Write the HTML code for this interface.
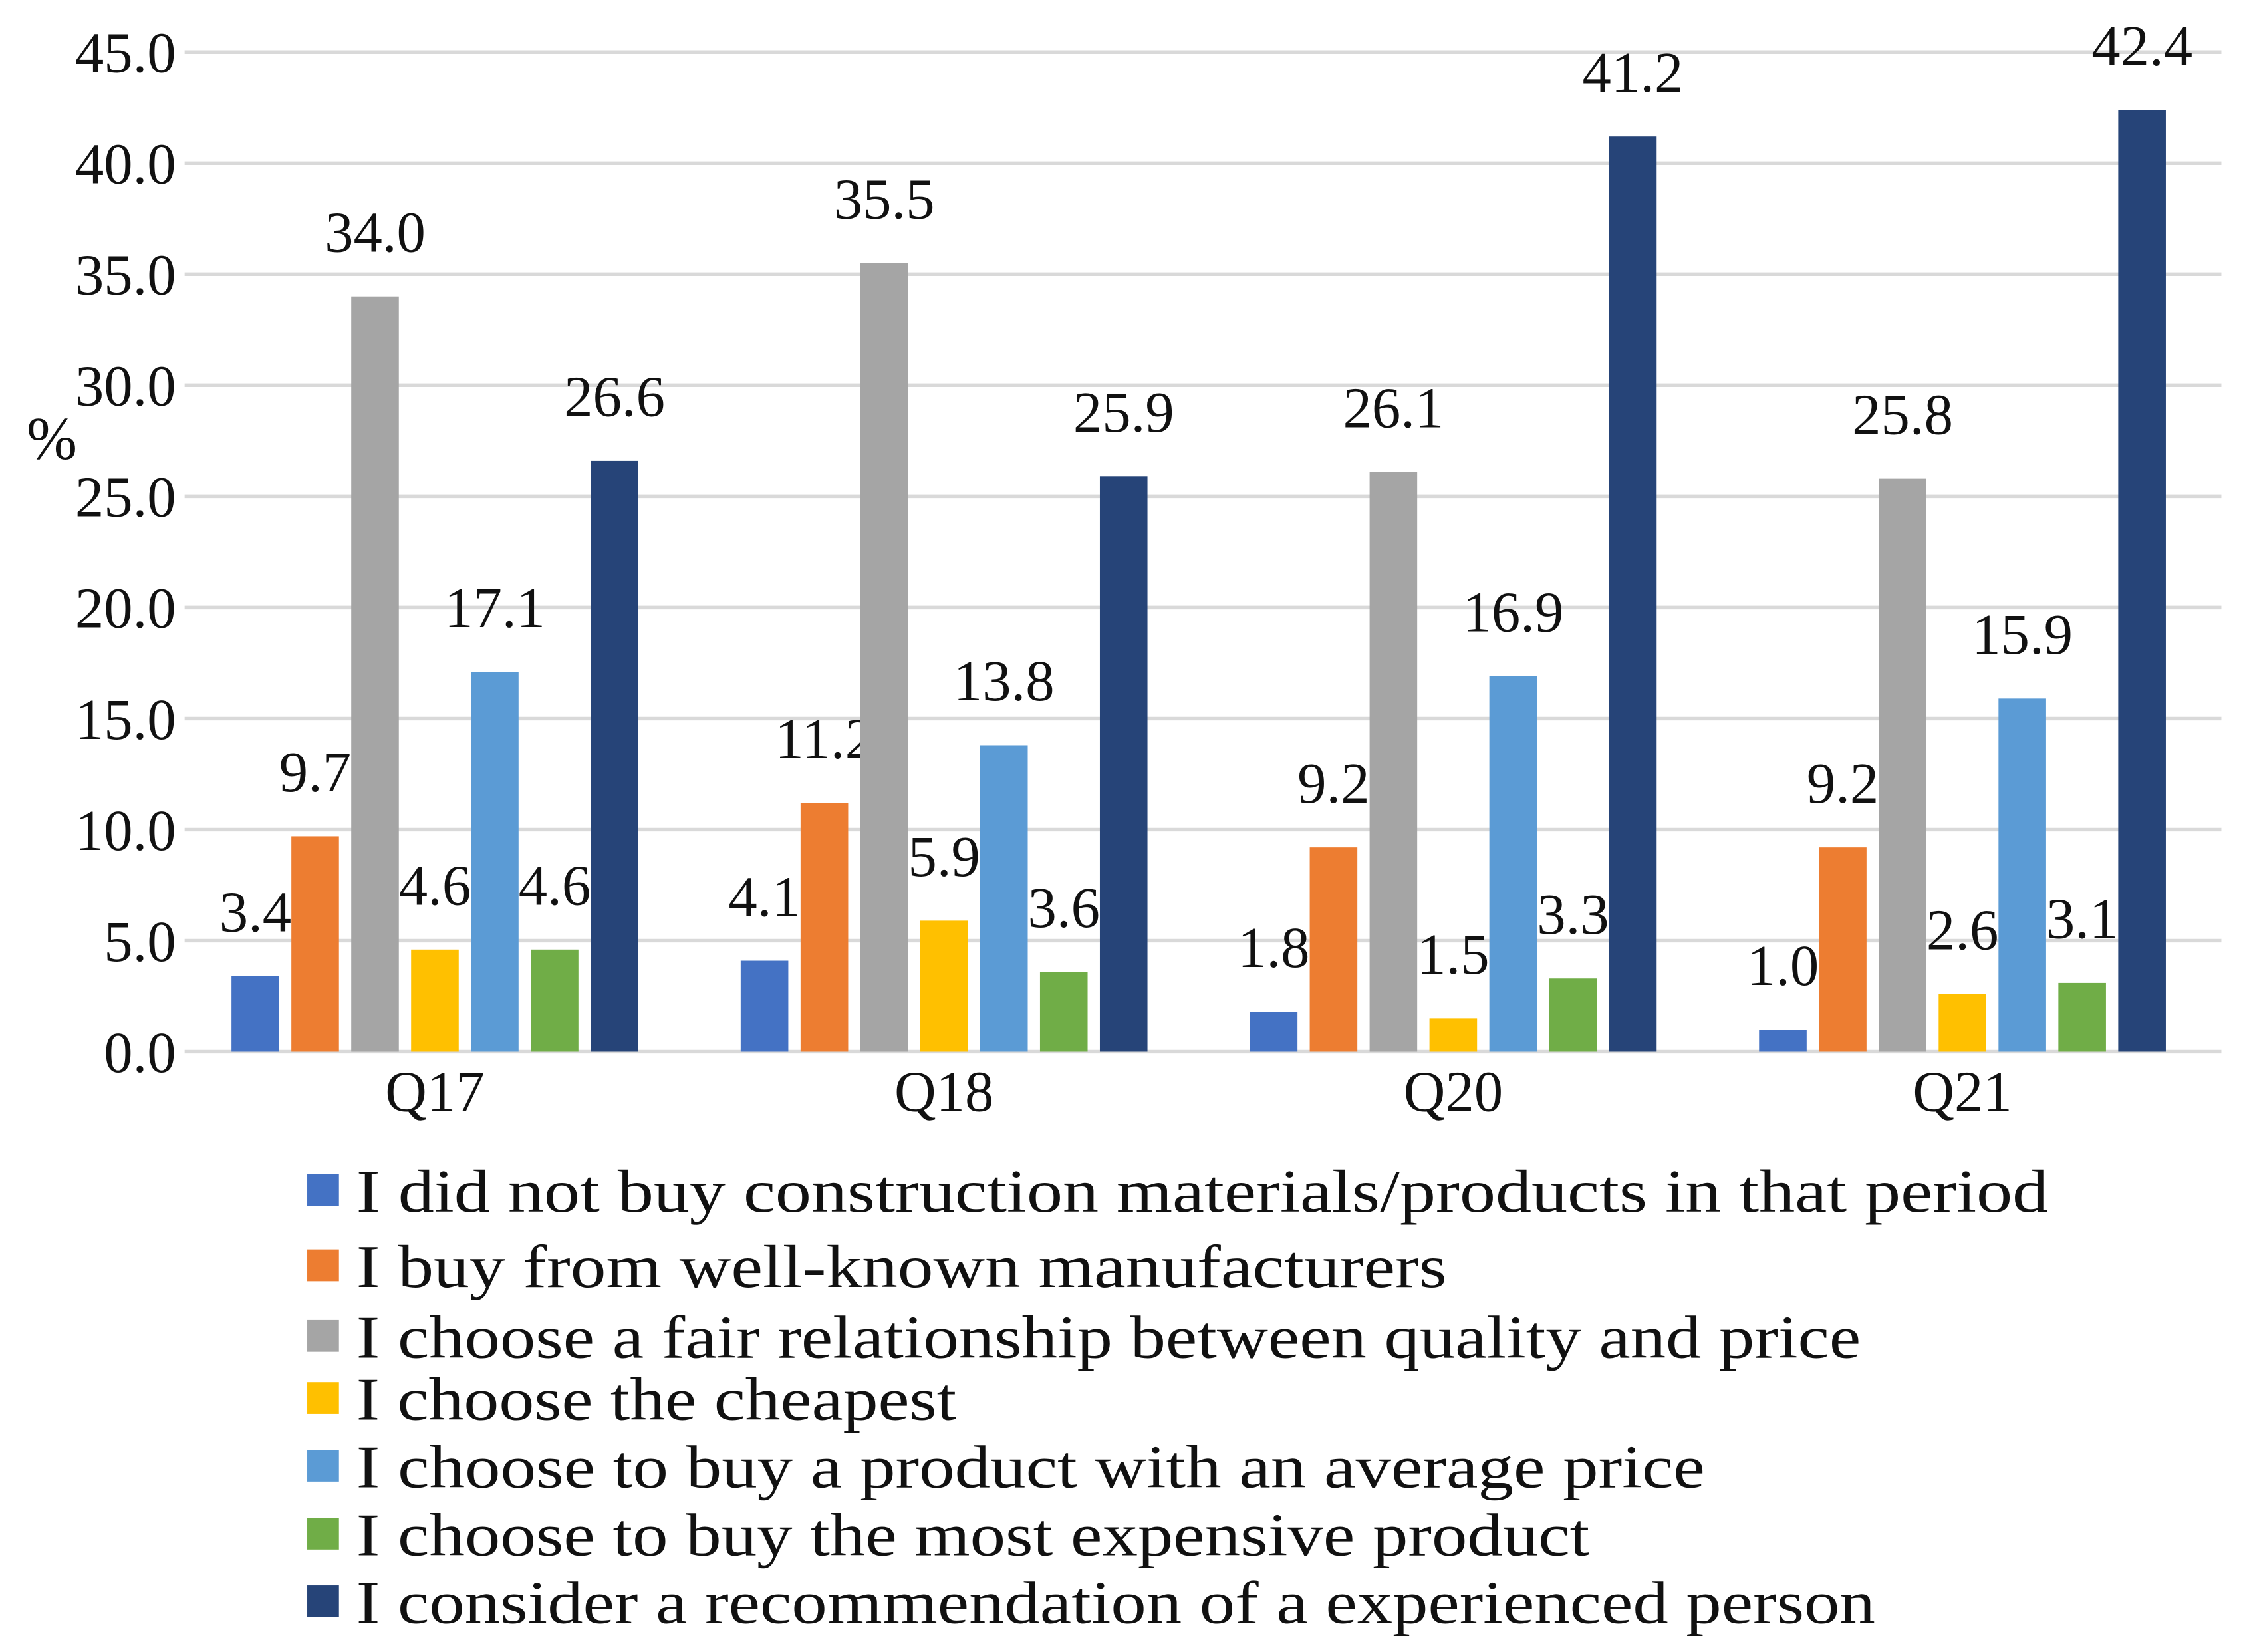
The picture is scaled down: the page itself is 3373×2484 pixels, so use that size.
<!DOCTYPE html>
<html><head><meta charset="utf-8"><style>
html,body{margin:0;padding:0;background:#fff;}
svg{display:block;}
text{font-family:"Liberation Serif",serif;fill:#111;}
</style></head><body>
<svg id="chart" width="3373" height="2484" viewBox="0 0 1555 1145" xmlns="http://www.w3.org/2000/svg">
<g id="grid"></g>
<g id="yticks"></g>
<g id="bars"></g>
<g id="xlabels"></g>
<g id="legend"></g>
<text x="36" y="318" font-size="42" text-anchor="middle">%</text>
</svg>
<script>
const categories = ["Q17","Q18","Q20","Q21"];
const seriesNames = [
 "I did not buy construction materials/products in that period",
 "I buy from well-known manufacturers",
 "I choose a fair relationship between quality and price",
 "I choose the cheapest",
 "I choose to buy a product with an average price",
 "I choose to buy the most expensive product",
 "I consider a recommendation of a experienced person"
];
const seriesColors = ["#4472c4","#ed7d31","#a5a5a5","#ffc000","#5b9bd5","#70ad47","#264478"];
const s0 = [3.4,4.1,1.8,1.0];
const s1 = [9.7,11.2,9.2,9.2];
const s2 = [34.0,35.5,26.1,25.8];
const s3 = [4.6,5.9,1.5,2.6];
const s4 = [17.1,13.8,16.9,15.9];
const s5 = [4.6,3.6,3.3,3.1];
const s6 = [26.6,25.9,41.2,42.4];
const seriesValues = [s0,s1,s2,s3,s4,s5,s6];
const yTicks = [0,5,10,15,20,25,30,35,40,45];
const yMax = 45;

const NS="http://www.w3.org/2000/svg";
const plotTop=36, plotBottom=729, plotLeft=128, plotRight=1540;
const y = v => plotBottom - (v/yMax)*(plotBottom-plotTop);
const groupW = (plotRight-plotLeft)/categories.length;
const groupCenter = i => plotLeft + groupW*(i+0.5) - 3;
const step = 41.5, barW = 33;
const barX = (i,s) => groupCenter(i) + (s-3)*step - barW/2;
function mk(tag, attrs, parent, txt){
  const e=document.createElementNS(NS,tag);
  for(const k in attrs) e.setAttribute(k,attrs[k]);
  if(txt!==undefined) e.textContent=txt;
  parent.appendChild(e); return e;
}
const grid=document.getElementById('grid'), yt=document.getElementById('yticks');
yTicks.forEach(t=>{
  const l=mk('line',{x1:plotLeft,x2:plotRight,y1:y(t),y2:y(t),stroke:'#d9d9d9','stroke-width':2.5},grid);
  
  
  const tx=mk('text',{x:122,y:y(t)+14,'font-size':40,'text-anchor':'end'},yt,t.toFixed(1));
  
  
});
const bars=document.getElementById('bars');
seriesValues.forEach((vals,s)=>{
  vals.forEach((v,i)=>{
    const r=mk('rect',{x:barX(i,s),y:y(v),width:barW,height:plotBottom-y(v),fill:seriesColors[s]},bars);
    
    
    const lb=mk('text',{x:barX(i,s)+barW/2,y:y(v)-31,'font-size':40,'text-anchor':'middle'},bars,v.toFixed(1));
    
    
  });
});
const xl=document.getElementById('xlabels');
categories.forEach((c,i)=>{
  const t=mk('text',{x:groupCenter(i),y:770,'font-size':40,'text-anchor':'middle'},xl,c);
  
  
});
const leg=document.getElementById('legend');
const rowY=[826,878,927,970,1017,1064,1111];
const rowEnd=[1420,1003,1290,663,1182,1102,1300];
seriesNames.forEach((n,s)=>{
  const g=mk('g',{},leg);
  
  
  mk('rect',{x:213,y:rowY[s]-12,width:22,height:22,fill:seriesColors[s]},g);
  mk('text',{x:247,y:rowY[s]+14,'font-size':42,textLength:rowEnd[s]-247,lengthAdjust:'spacingAndGlyphs'},g,n);
});
</script>
</body></html>
